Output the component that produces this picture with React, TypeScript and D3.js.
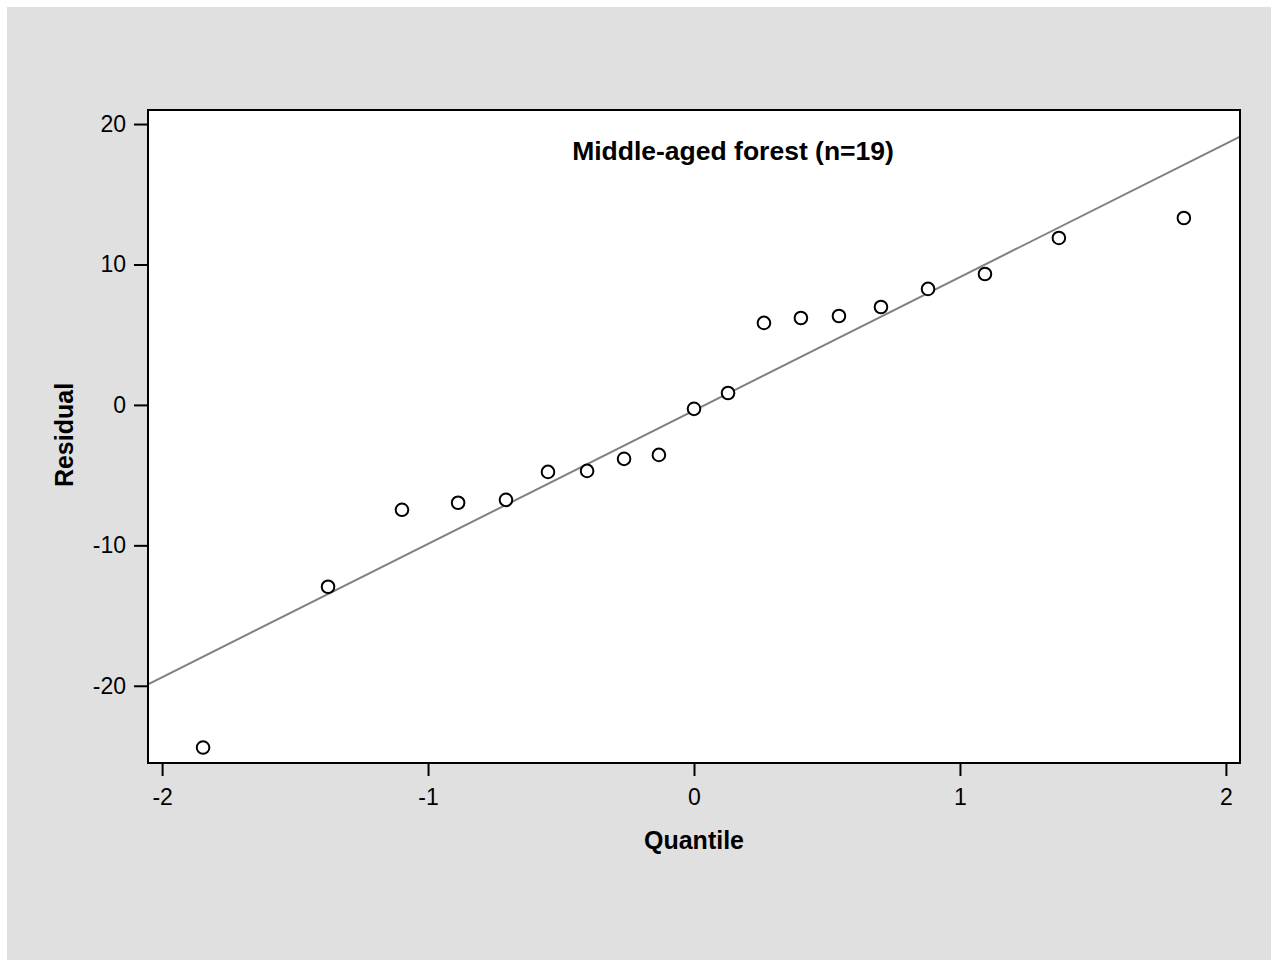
import React, { useEffect, useRef } from "react";
import * as d3 from "d3";

// normal quantiles (x) and residuals (y)
const quantiles = [
  -1.846, -1.376, -1.098, -0.887, -0.707, -0.549, -0.402, -0.263, -0.132, 0,
  0.128, 0.263, 0.402, 0.545, 0.703, 0.88, 1.094, 1.372, 1.842,
];
const residuals = [
  -24.4, -12.95, -7.47, -6.97, -6.76, -4.77, -4.7, -3.84, -3.56, -0.28, 0.85,
  5.84, 6.19, 6.33, 6.97, 8.26, 9.32, 11.89, 13.31,
];
const xTicks = [-2, -1, 0, 1, 2];
const yTicks = [-20, -10, 0, 10, 20];
// reference line: residual = intercept + slope * quantile
const lineSlope = 9.5;
const lineIntercept = -0.4;

const title = "Middle-aged forest (n=19)";
const xLabel = "Quantile";
const yLabel = "Residual";

const App = () => {
  const ref = useRef<SVGSVGElement | null>(null);

  useEffect(() => {
    const width = 1271;
    const height = 960;
    const margin = { left: 148, right: 31, top: 110, bottom: 197 };
    const font = "'Liberation Sans', Arial, Helvetica, sans-serif";

    const svg = d3.select(ref.current);
    svg.selectAll("*").remove();
    svg.attr("width", width).attr("height", height);

    svg.append("rect").attr("width", width).attr("height", height).attr("fill", "#fff");
    svg
      .append("rect")
      .attr("x", 7)
      .attr("y", 7)
      .attr("width", width - 7)
      .attr("height", height - 7)
      .attr("fill", "#e0e0e0");

    const x = d3
      .scaleLinear()
      .domain([-2.053, 2.053])
      .range([margin.left, width - margin.right]);
    const y = d3
      .scaleLinear()
      .domain([-25.5, 21])
      .range([height - margin.bottom, margin.top]);

    const pw = width - margin.right - margin.left;
    const ph = height - margin.bottom - margin.top;

    svg
      .append("rect")
      .attr("x", margin.left)
      .attr("y", margin.top)
      .attr("width", pw)
      .attr("height", ph)
      .attr("fill", "#fff");

    svg
      .append("clipPath")
      .attr("id", "plotclip")
      .append("rect")
      .attr("x", margin.left)
      .attr("y", margin.top)
      .attr("width", pw)
      .attr("height", ph);

    // reference line
    const [x0, x1] = x.domain();
    svg
      .append("line")
      .attr("clip-path", "url(#plotclip)")
      .attr("x1", x(x0))
      .attr("y1", y(lineIntercept + lineSlope * x0))
      .attr("x2", x(x1))
      .attr("y2", y(lineIntercept + lineSlope * x1))
      .attr("stroke", "#808080")
      .attr("stroke-width", 2);

    // points
    svg
      .append("g")
      .selectAll("circle")
      .data(quantiles.map((q, i) => [q, residuals[i]]))
      .enter()
      .append("circle")
      .attr("cx", (d) => x(d[0]))
      .attr("cy", (d) => y(d[1]))
      .attr("r", 6.3)
      .attr("fill", "#fff")
      .attr("stroke", "#000")
      .attr("stroke-width", 2);

    const fmt = (d: any) => String(d);

    // axes
    const xAxis = svg
      .append("g")
      .attr("transform", `translate(0,${height - margin.bottom})`)
      .call(
        d3.axisBottom(x).tickValues(xTicks).tickFormat(fmt).tickSize(13).tickSizeOuter(0).tickPadding(13)
      );
    const yAxis = svg
      .append("g")
      .attr("transform", `translate(${margin.left},0)`)
      .call(
        d3.axisLeft(y).tickValues(yTicks).tickFormat(fmt).tickSize(14).tickSizeOuter(0).tickPadding(8)
      );

    [xAxis, yAxis].forEach((g) => {
      g.select(".domain").remove();
      g.selectAll(".tick line").attr("stroke", "#000").attr("stroke-width", 2);
      g.selectAll(".tick text")
        .attr("fill", "#000")
        .style("font-family", font)
        .style("font-size", "23px");
    });

    // frame
    svg
      .append("rect")
      .attr("x", margin.left)
      .attr("y", margin.top)
      .attr("width", pw)
      .attr("height", ph)
      .attr("fill", "none")
      .attr("stroke", "#000")
      .attr("stroke-width", 2);

    svg
      .append("text")
      .attr("x", 733)
      .attr("y", 160)
      .attr("text-anchor", "middle")
      .style("font-family", font)
      .style("font-size", "26.5px")
      .style("font-weight", "bold")
      .text(title);

    svg
      .append("text")
      .attr("x", x(0))
      .attr("y", 849)
      .attr("text-anchor", "middle")
      .style("font-family", font)
      .style("font-size", "25px")
      .style("font-weight", "bold")
      .text(xLabel);

    svg
      .append("text")
      .attr("transform", `translate(73,${435}) rotate(-90)`)
      .attr("text-anchor", "middle")
      .style("font-family", font)
      .style("font-size", "25px")
      .style("font-weight", "bold")
      .text(yLabel);
  }, []);

  return (
    <div>
      <svg ref={ref} style={{ position: "absolute", left: 0, top: 0, display: "block" }}></svg>
    </div>
  );
};

export default App;
